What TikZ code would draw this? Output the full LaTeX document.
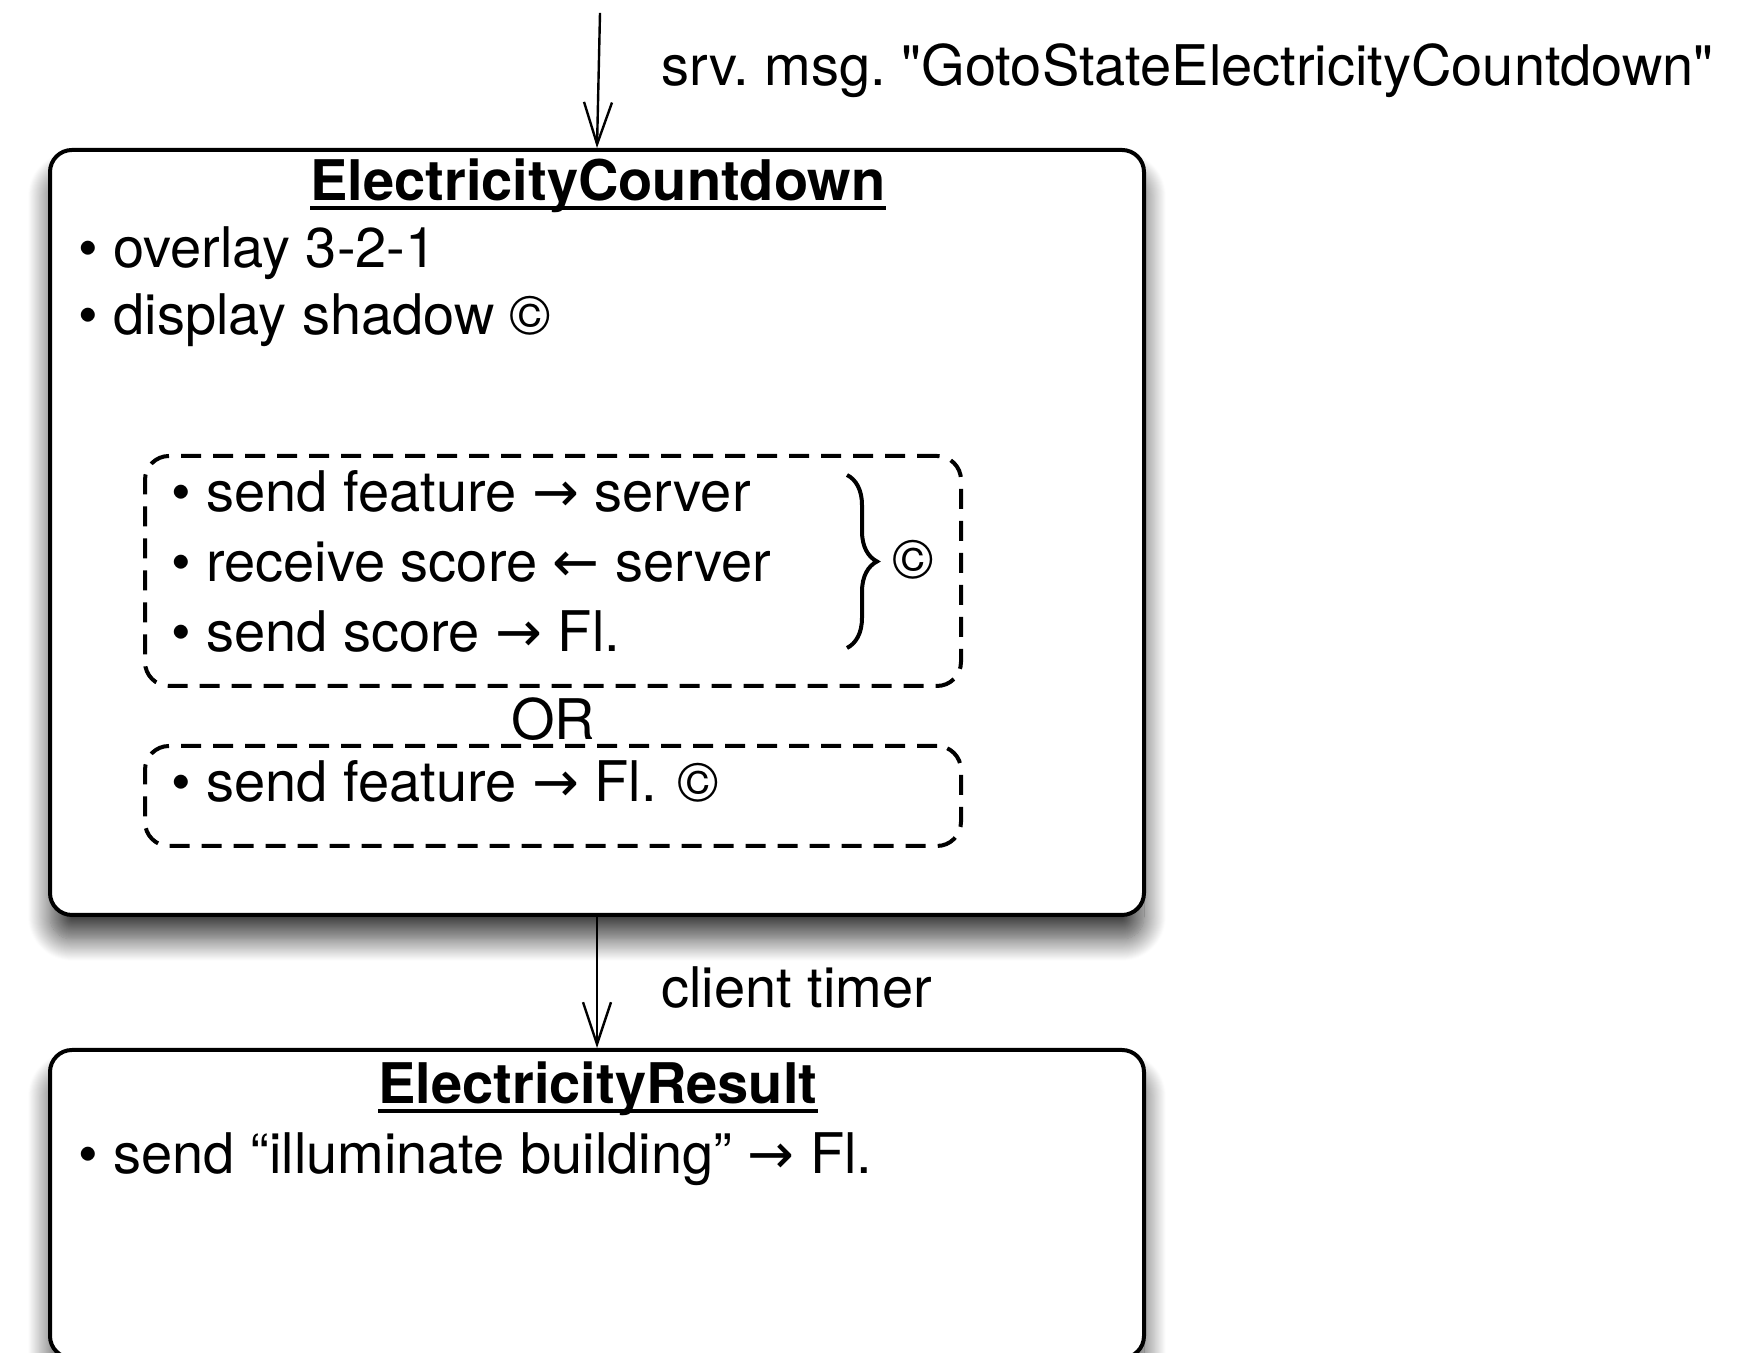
\documentclass[tikz,border=0pt]{standalone}
\usepackage{fontspec}
\setmainfont{TeX Gyre Heros}
\newfontfamily\arrowfont{DejaVu Sans}
\newfontfamily\quotefont[Ligatures=TeXOff]{TeX Gyre Heros}
\usetikzlibrary{arrows.meta,positioning,shadows.blur,decorations.pathreplacing}
\newcommand{\toarr}{{\arrowfont\char"2192}}
\newcommand{\fromarr}{{\arrowfont\char"2190}}
\newcommand{\dq}{{\quotefont"}}

\begin{document}
\begin{tikzpicture}[x=0.5pt,y=0.5pt,
  state/.style={draw, line width=2pt, rounded corners=11pt, fill=white,
    blur shadow={shadow xshift=0pt, shadow yshift=-12pt, shadow blur radius=11pt,
      shadow blur steps=24, shadow opacity=75}},
  group/.style={draw, dash pattern=on 10pt off 6pt, line width=2pt, rounded corners=12pt},
  item/.style={anchor=base west, inner sep=0pt, font=\fontsize{28}{34}\selectfont},
  title/.style={anchor=base, inner sep=0pt, font=\fontsize{28}{34}\selectfont\bfseries},
  trans/.style={-{Straight Barb[length=21pt,width=14pt,line width=1.2pt]}, line width=1.2pt}
]
\useasboundingbox (0,0) rectangle (1752,1353);

% states
\node[state, minimum width=547pt, minimum height=382.5pt] (countdown) at (597,820.5) {};
\node[state, minimum width=547pt, minimum height=154pt] (result) at (597,149) {};

% ElectricityCountdown
\node[title] (t1) at (598,1152) {ElectricityCountdown};
\draw[line width=2pt] ([yshift=-3.5pt]t1.base west) -- ([yshift=-3.5pt]t1.base east);
\node[item] (overlay) at (78,1085) {• overlay 3-2-1};
\node[item] (shadow) at (78,1018) {• display shadow ©};

\node[group, minimum width=408pt, minimum height=115pt] (online) at (553,782) {};
\node[item] (feat) at (171,841) {• send feature \toarr\ server};
\node[item] (recv) at (171,771) {• receive score \fromarr\ server};
\node[item] (score) at (171,701) {• send score \toarr\ Fl.};
\coordinate (bracetop) at (847,878);
\coordinate (bracebot) at (847,705);
\draw[decorate, decoration={brace, amplitude=15pt}, line width=2pt] (bracetop) -- (bracebot);
\node[item] (copy) at (892,774) {©};

\node[title, font=\fontsize{28}{34}\selectfont] (or) at (553,613) {OR};

\node[group, minimum width=408pt, minimum height=50pt] (offline) at (553,557) {};
\node[item] (featfl) at (171,551) {• send feature \toarr\ Fl. ©};

% ElectricityResult
\node[title] (t2) at (598,249) {ElectricityResult};
\draw[line width=2pt] ([yshift=-3.5pt]t2.base west) -- ([yshift=-3.5pt]t2.base east);
\node[item] (illum) at (78,179) {• send “illuminate building” \toarr\ Fl.};

% transitions
\coordinate (entry) at (600,1340);
\draw[trans] (entry) -- (countdown.north);
\node[item] (srvmsg) at (661,1267) {srv.\ msg.\ \dq GotoStateElectricityCountdown\dq};
\draw[trans] (countdown.south) -- (result.north);
\node[item] (timer) at (661,345) {client timer};
\end{tikzpicture}
\end{document}
